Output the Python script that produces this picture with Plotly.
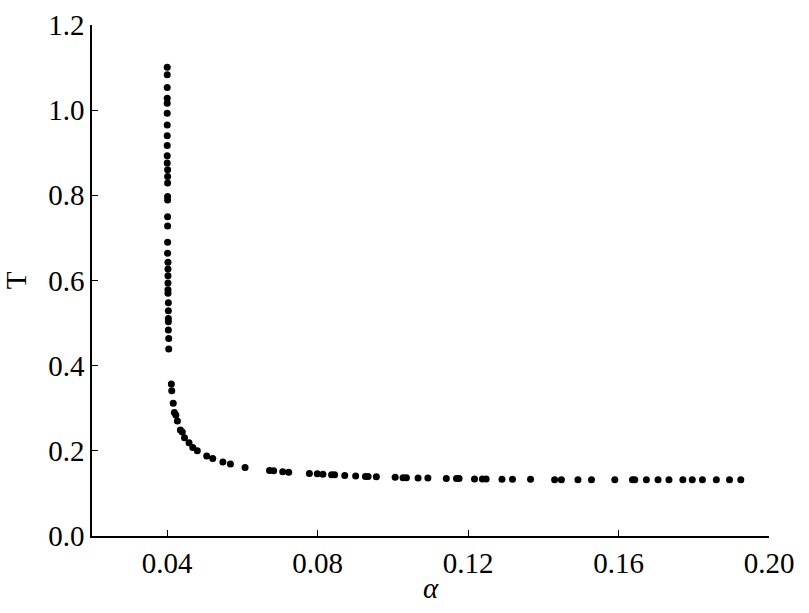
import plotly.graph_objects as go

# Vertical branch (alpha ~ 0.040)
alpha_v = [0.0400, 0.0400, 0.0400, 0.0400, 0.0400, 0.0400, 0.0400, 0.0400, 0.0400,
           0.0400, 0.0400, 0.0401, 0.0401, 0.0401, 0.0401, 0.0401, 0.0401, 0.0401,
           0.0401, 0.0401, 0.0402, 0.0402, 0.0402, 0.0402, 0.0402, 0.0402, 0.0403,
           0.0403, 0.0403, 0.0403, 0.0403, 0.0404, 0.0404]
T_v = [1.101, 1.083, 1.053, 1.028, 1.016, 0.993, 0.965, 0.940, 0.917,
       0.893, 0.876, 0.860, 0.844, 0.829, 0.797, 0.789, 0.750, 0.728,
       0.690, 0.664, 0.643, 0.627, 0.611, 0.594, 0.578, 0.570, 0.548,
       0.529, 0.511, 0.503, 0.484, 0.464, 0.439]

# Curved / tail branch
alpha_c = [0.0411, 0.0412, 0.0416, 0.0419, 0.0423, 0.0427, 0.0435, 0.0440, 0.0446,
           0.0458, 0.0468, 0.0480, 0.0505, 0.0521, 0.0548, 0.0568, 0.0607, 0.0672,
           0.0683, 0.0707, 0.0723, 0.0778, 0.0799, 0.0814, 0.0837, 0.0845, 0.0872,
           0.0901, 0.0927, 0.0934, 0.0956, 0.1006, 0.1027, 0.1036, 0.1067, 0.1093,
           0.1142, 0.1169, 0.1176, 0.1217, 0.1238, 0.1248, 0.1290, 0.1318, 0.1366,
           0.1430, 0.1448, 0.1492, 0.1528, 0.1590, 0.1637, 0.1643, 0.1674, 0.1705,
           0.1734, 0.1771, 0.1796, 0.1823, 0.1860, 0.1895, 0.1925]
T_c = [0.357, 0.341, 0.312, 0.290, 0.284, 0.270, 0.249, 0.244, 0.231,
       0.219, 0.208, 0.200, 0.188, 0.182, 0.174, 0.169, 0.161, 0.154,
       0.153, 0.151, 0.150, 0.147, 0.146, 0.145, 0.144, 0.144, 0.142,
       0.141, 0.140, 0.140, 0.139, 0.138, 0.137, 0.137, 0.136, 0.136,
       0.135, 0.135, 0.135, 0.134, 0.134, 0.134, 0.133, 0.133, 0.133,
       0.132, 0.132, 0.132, 0.132, 0.132, 0.132, 0.132, 0.132, 0.132,
       0.132, 0.132, 0.132, 0.132, 0.132, 0.132, 0.132]

x_ticks = [0.04, 0.08, 0.12, 0.16, 0.20]
x_ticklabels = ["0.04", "0.08", "0.12", "0.16", "0.20"]
y_ticks = [0.0, 0.2, 0.4, 0.6, 0.8, 1.0, 1.2]
y_ticklabels = ["0.0", "0.2", "0.4", "0.6", "0.8", "1.0", "1.2"]

fig = go.Figure()
fig.add_trace(go.Scatter(
    x=alpha_v + alpha_c, y=T_v + T_c, mode="markers",
    marker=dict(color="black", size=7, line=dict(width=0)),
    showlegend=False, cliponaxis=False,
))

FAMILY = "Liberation Serif, Times New Roman, Times, serif"
font = dict(family=FAMILY, size=29, color="black")
fig.update_layout(
    width=809, height=613,
    margin=dict(l=92, r=40, t=25, b=77, autoexpand=False),
    paper_bgcolor="white", plot_bgcolor="white",
    font=font,
    xaxis=dict(
        range=[0.02, 0.20], tickvals=x_ticks, ticktext=x_ticklabels,
        ticks="inside", ticklen=6, tickwidth=1.3, tickcolor="black",
        showline=True, linecolor="black", linewidth=1.5,
        showgrid=False, zeroline=False, mirror=False, automargin=False,
        title=dict(text="<i>α</i>", font=dict(family=FAMILY, size=29, color="black"), standoff=0),
        tickfont=font,
    ),
    yaxis=dict(
        range=[0, 1.2], tickvals=y_ticks, ticktext=y_ticklabels,
        ticks="inside", ticklen=6, tickwidth=1.3, tickcolor="black",
        showline=True, linecolor="black", linewidth=1.5,
        showgrid=False, zeroline=False, mirror=False, automargin=False,
        title=dict(text="T", font=dict(family=FAMILY, size=29, color="black"), standoff=16),
        tickfont=font,
    ),
)

fig.write_html(
    "out.html",
    config={"displayModeBar": False},
    post_script="document.body.style.margin='0';document.body.style.padding='0';",
)
